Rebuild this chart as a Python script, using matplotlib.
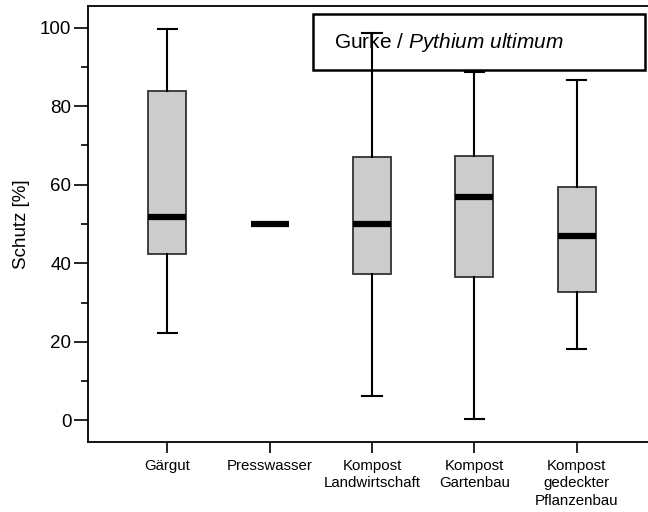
import matplotlib
matplotlib.use("Agg")
import matplotlib.pyplot as plt
from matplotlib.patches import Rectangle

plt.rcParams['font.family'] = ['Liberation Sans', 'DejaVu Sans']
plt.rcParams['mathtext.fontset'] = 'custom'
plt.rcParams['mathtext.rm'] = 'Liberation Sans'
plt.rcParams['mathtext.it'] = 'Liberation Sans:italic'

# Gurke / Pythium ultimum - Schutz in %
labels = ["Gärgut", "Presswasser", "Kompost\nLandwirtschaft",
          "Kompost\nGartenbau", "Kompost\ngedeckter\nPflanzenbau"]
whis_lo = [22.3, 50.0, 6.3, 0.4, 18.2]
q1 = [42.3, 50.0, 37.2, 36.4, 32.8]
med = [51.8, 50.0, 50.1, 56.9, 47.0]
q3 = [83.9, 50.0, 67.0, 67.4, 59.3]
whis_hi = [99.6, 50.0, 98.6, 88.8, 86.8]

stats = []
for lab, lo, a, m, b, hi in zip(labels, whis_lo, q1, med, q3, whis_hi):
    stats.append(dict(label=lab, whislo=lo, q1=a, med=m, q3=b, whishi=hi, fliers=[]))

fig = plt.figure(figsize=(6.48, 5.12), dpi=100)
ax = fig.add_axes([88/648, 1-442.3/512, 1-88/648, (442.3-5.7)/512])

ax.bxp(stats, positions=range(1, 6), widths=0.37, capwidths=0.19,
       patch_artist=True, showfliers=False,
       boxprops=dict(facecolor='#cccccc', edgecolor='#333333', linewidth=1.3),
       medianprops=dict(color='black', linewidth=4.5, solid_capstyle='butt'),
       whiskerprops=dict(color='black', linewidth=1.5),
       capprops=dict(color='black', linewidth=1.5))

ax.set_xlim(0.2256, 5.697)
ax.set_ylim(-5.6, 105.6)
ax.set_yticks([0, 20, 40, 60, 80, 100])
ax.set_yticks([10, 30, 50, 70, 90], minor=True)
ax.tick_params(axis='y', which='major', length=10, width=1.2, labelsize=13.5, pad=2)
ax.tick_params(axis='y', which='minor', length=5, width=1.2)
ax.tick_params(axis='x', length=8, width=1.2, labelsize=10.8, pad=4)
ax.set_xticklabels(labels, linespacing=1.3)
ax.set_ylabel("Schutz [%]", fontsize=13.5, labelpad=7)

ax.spines['right'].set_visible(False)
for s in ['left', 'bottom', 'top']:
    ax.spines[s].set_linewidth(1.3)

# title box
fig.patches.append(Rectangle((313/648, 1-70.3/512), (645-313)/648, (70.3-14.3)/512,
                             transform=fig.transFigure, facecolor='white',
                             edgecolor='black', linewidth=1.8, zorder=0.5))
ax.set_zorder(1)
ax.patch.set_alpha(0)
fig.text(334/648, 1-42.5/512, "Gurke / $\\it{Pythium\\ ultimum}$", fontsize=15,
         va='center', ha='left', zorder=0.6)

fig.savefig("out.png", dpi=100)
